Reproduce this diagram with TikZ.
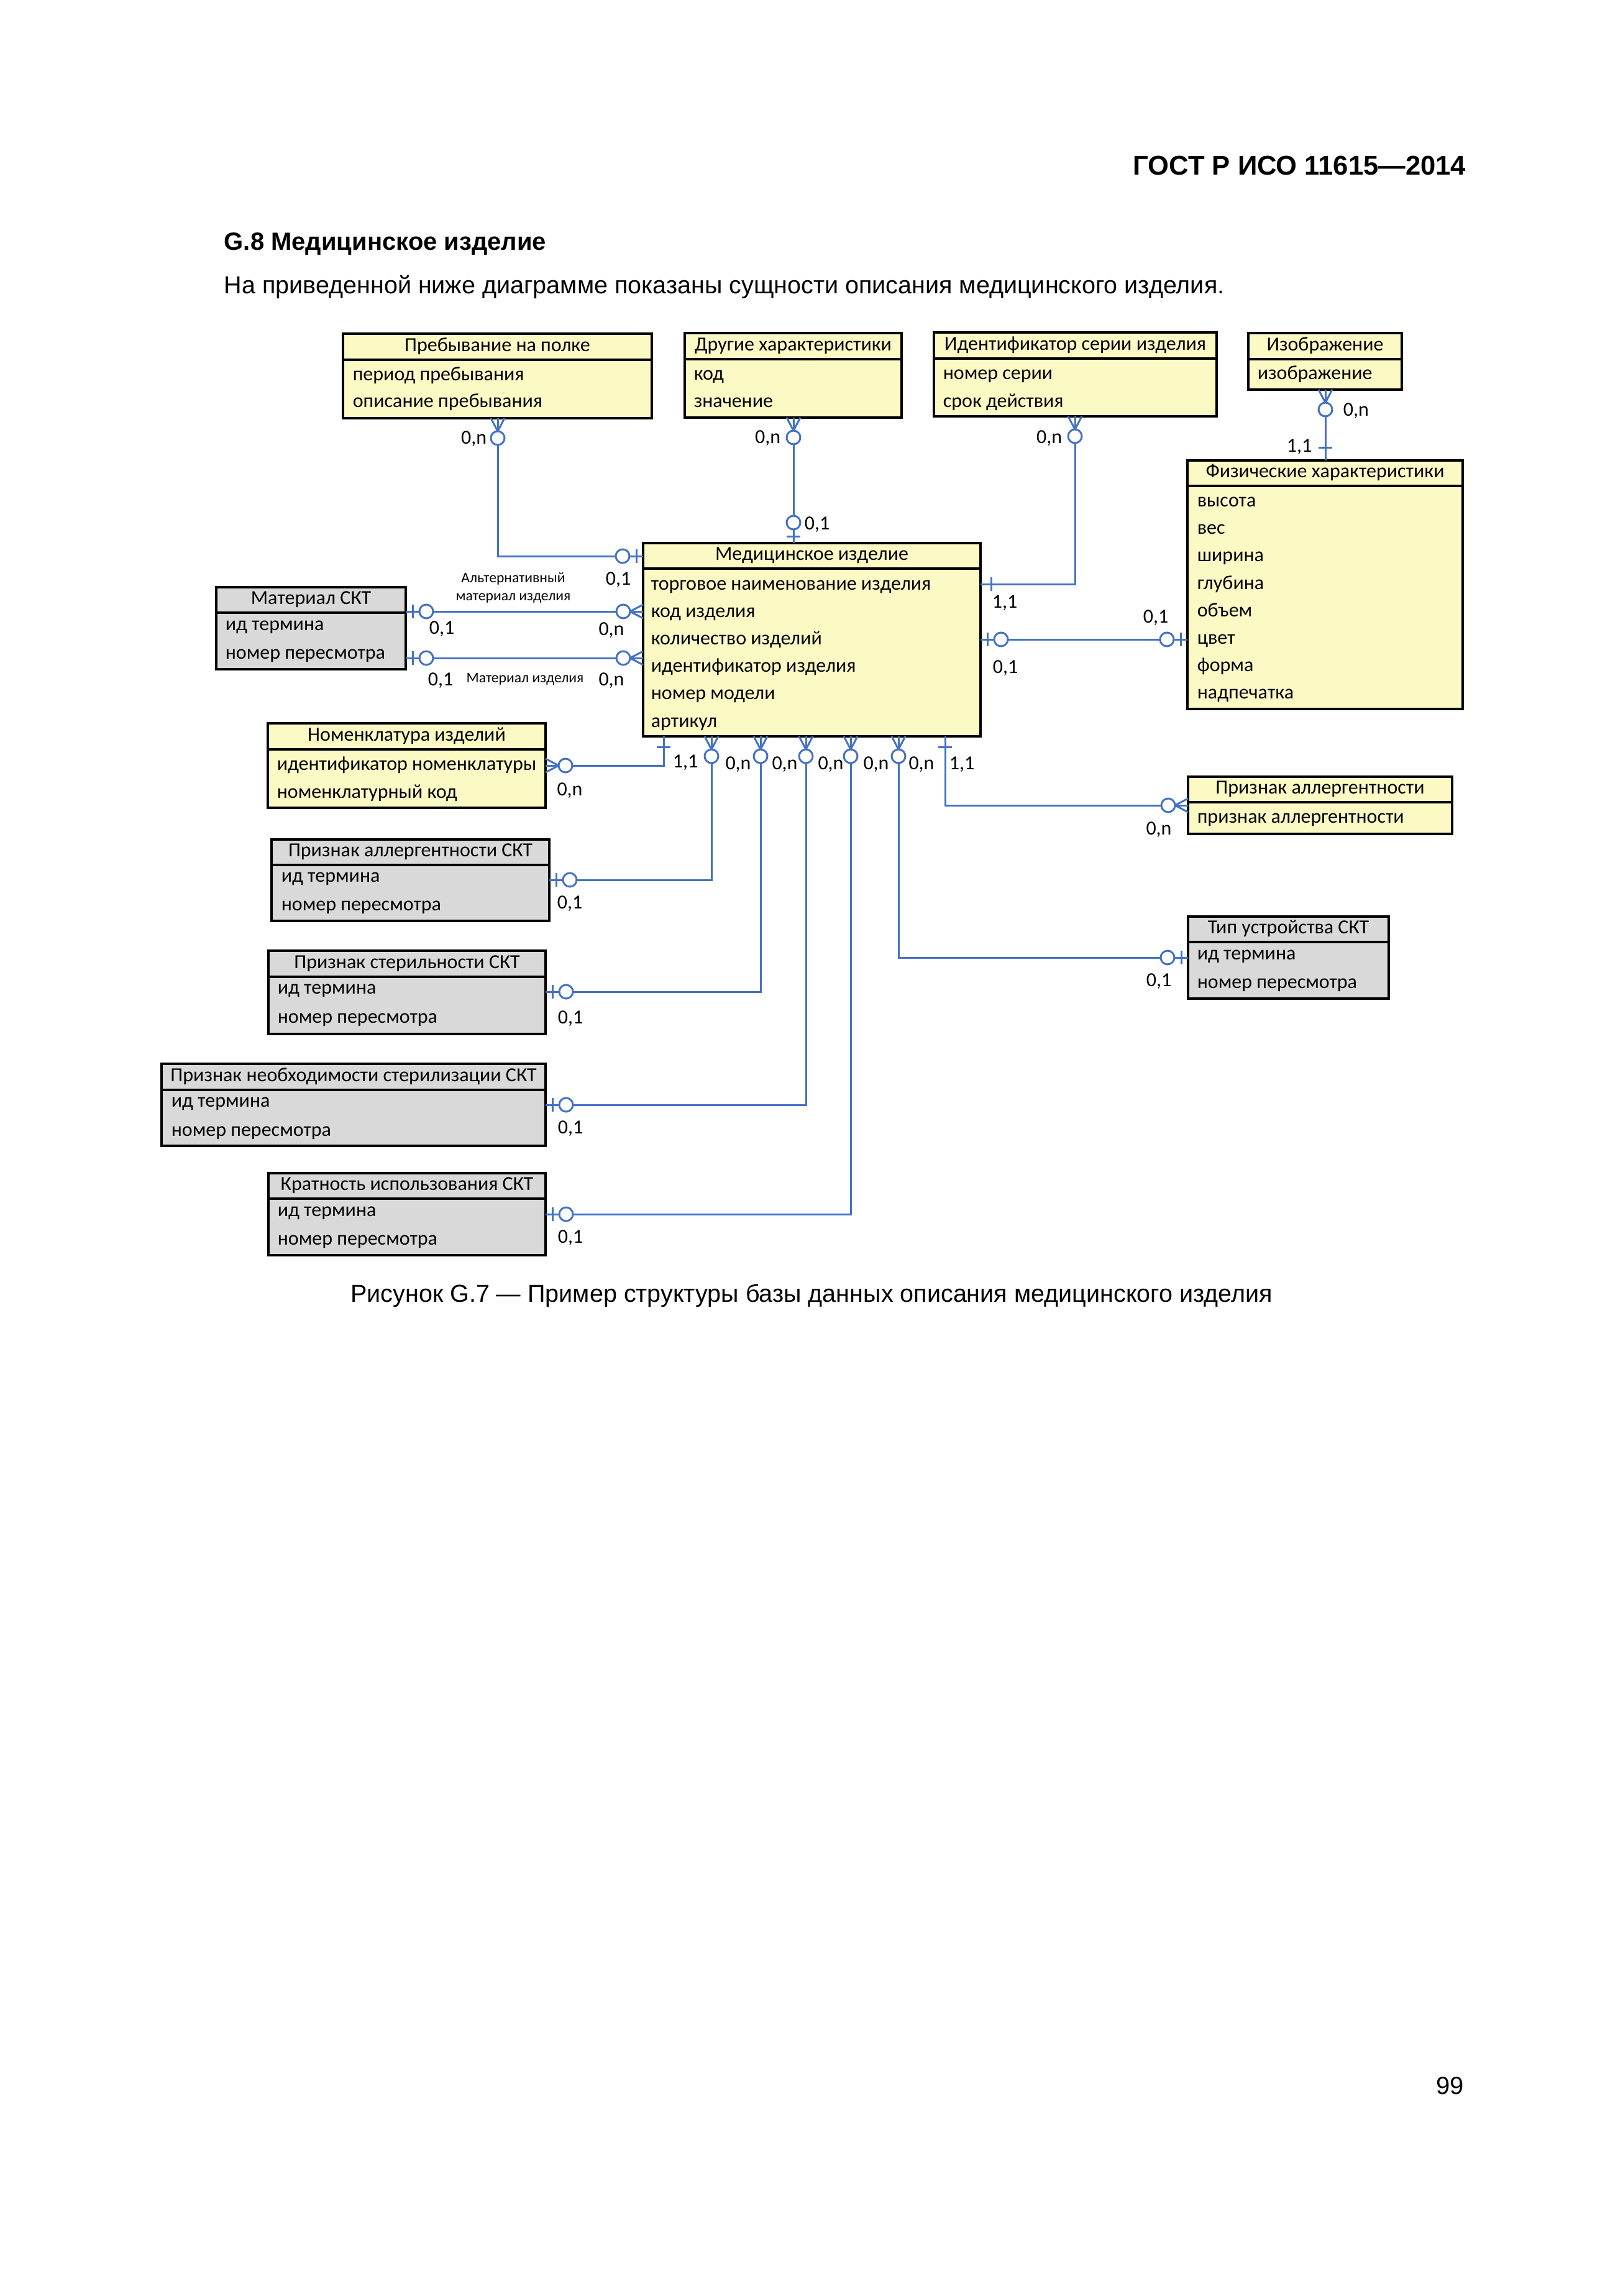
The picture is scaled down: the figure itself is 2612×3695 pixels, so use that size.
\documentclass[tikz,border=0pt]{standalone}
\usepackage{fontspec}
\setmainfont{Liberation Sans}
\newfontfamily\dfont{Carlito}
\usetikzlibrary{fit}
\definecolor{relblue}{RGB}{68,114,196}
\definecolor{entyel}{RGB}{251,249,196}
\definecolor{entgrey}{RGB}{217,217,217}
\newcommand\mkent[8]{%
  \node[entbox, fill=#2, fit={(#3,#4) (#5,#6)}] (#1) {};
  \draw[entline] (#3,#7) -- (#5,#7);
  \node[ttl] (#1-t) at ({(#3+#5)/2},{(#4+#7)/2}) {#8};}
\newcommand\mkrow[4]{\node[attr] (#1) at (#2,#3) {#4};}
\begin{document}
\begin{tikzpicture}[x=0.25pt, y=-0.25pt,
 entbox/.style={draw=black, line width=0.85pt, inner sep=0pt, outer sep=0pt},
 entline/.style={draw=black, line width=0.85pt},
 dtext/.style={font=\dfont\fontsize{8pt}{9.6pt}\selectfont, inner sep=0pt, text height=5.6pt, text depth=1.92pt},
 ttl/.style={dtext, anchor=center},
 attr/.style={dtext, anchor=west},
 card/.style={dtext},
 small/.style={font=\dfont\fontsize{5.9pt}{7.2pt}\selectfont, inner sep=0pt, align=center},
 rel/.style={draw=relblue, line width=0.75pt},
 pagetext/.style={inner sep=0pt, font=\fontsize{9.88pt}{12pt}\selectfont},
 zo/.pic={\draw[rel] (11,-11) -- (11,11); \draw[rel, fill=white] (33,0) circle[radius=2.75pt];},
 zm/.pic={\draw[rel] (0,-11) -- (21,0) -- (0,11); \draw[rel, fill=white] (32,0) circle[radius=2.75pt];},
 pics/one/.style={code={\draw[rel] (#1,-11) -- (#1,11);}},
 pics/one/.default=17,
]
\fill[white] (0,0) rectangle (2612,3695);
\useasboundingbox (0,0) rectangle (2612,3695);

% page texts
\node[pagetext, anchor=base east, font=\bfseries\fontsize{10.9pt}{13pt}\selectfont] (hdr) at (2360,281) {ГОСТ Р ИСО 11615—2014};
\node[pagetext, anchor=base west, font=\bfseries\fontsize{10pt}{12pt}\selectfont] (sec) at (360,402) {G.8 Медицинское изделие};
\node[pagetext, anchor=base west] (intro) at (360,472) {На приведенной ниже диаграмме показаны сущности описания медицинского изделия.};
\node[pagetext, anchor=base] (cap) at (1306,2095) {Рисунок G.7 — Пример структуры базы данных описания медицинского изделия};
\node[pagetext, anchor=base east, font=\fontsize{10pt}{12pt}\selectfont] (pg) at (2357,3370) {99};

% entities
\mkent{preb}{entyel}{552}{537}{1049}{673}{579}{Пребывание на полке}
\mkrow{preb-1}{567}{605}{период пребывания}
\mkrow{preb-2}{567}{648}{описание пребывания}

\mkent{drug}{entyel}{1102}{536}{1451}{672}{578}{Другие характеристики}
\mkrow{drug-1}{1116}{604}{код}
\mkrow{drug-2}{1116}{648}{значение}

\mkent{ident}{entyel}{1503}{535}{1958}{670}{577}{Идентификатор серии изделия}
\mkrow{ident-1}{1517}{603}{номер серии}
\mkrow{ident-2}{1517}{648}{срок действия}

\mkent{izob}{entyel}{2009}{536}{2256}{627}{578}{Изображение}
\mkrow{izob-1}{2023}{603}{изображение}

\mkent{fiz}{entyel}{1911}{741}{2354}{1141}{782}{Физические характеристики}
\mkrow{fiz-1}{1926}{808}{высота}
\mkrow{fiz-2}{1926}{852}{вес}
\mkrow{fiz-3}{1926}{896}{ширина}
\mkrow{fiz-4}{1926}{941}{глубина}
\mkrow{fiz-5}{1926}{985}{объем}
\mkrow{fiz-6}{1926}{1029}{цвет}
\mkrow{fiz-7}{1926}{1073}{форма}
\mkrow{fiz-8}{1926}{1117}{надпечатка}

\mkent{med}{entyel}{1035}{874}{1578}{1185}{915}{Медицинское изделие}
\mkrow{med-1}{1047}{942}{торговое наименование изделия}
\mkrow{med-2}{1047}{986}{код изделия}
\mkrow{med-3}{1047}{1030}{количество изделий}
\mkrow{med-4}{1047}{1074}{идентификатор изделия}
\mkrow{med-5}{1047}{1118}{номер модели}
\mkrow{med-6}{1047}{1163}{артикул}

\mkent{mat}{entgrey}{348}{945}{653}{1077}{986}{Материал СКТ}
\mkrow{mat-1}{362}{1007}{ид термина}
\mkrow{mat-2}{362}{1053}{номер пересмотра}

\mkent{nom}{entyel}{431}{1164}{878}{1300}{1206}{Номенклатура изделий}
\mkrow{nom-1}{445}{1232}{идентификатор номенклатуры}
\mkrow{nom-2}{445}{1277}{номенклатурный код}

\mkent{pallskt}{entgrey}{437}{1351}{884}{1482}{1392}{Признак аллергентности СКТ}
\mkrow{pallskt-1}{452}{1412}{ид термина}
\mkrow{pallskt-2}{452}{1458}{номер пересмотра}

\mkent{pster}{entgrey}{432}{1530}{878}{1664}{1572}{Признак стерильности СКТ}
\mkrow{pster-1}{446}{1592}{ид термина}
\mkrow{pster-2}{446}{1639}{номер пересмотра}

\mkent{pneob}{entgrey}{260}{1712}{878}{1844}{1754}{Признак необходимости стерилизации СКТ}
\mkrow{pneob-1}{275}{1774}{ид термина}
\mkrow{pneob-2}{275}{1821}{номер пересмотра}

\mkent{krat}{entgrey}{432}{1888}{878}{2020}{1929}{Кратность использования СКТ}
\mkrow{krat-1}{446}{1950}{ид термина}
\mkrow{krat-2}{446}{1996}{номер пересмотра}

\mkent{pall}{entyel}{1912}{1250}{2337}{1342}{1291}{Признак аллергентности}
\mkrow{pall-1}{1926}{1317}{признак аллергентности}

\mkent{tip}{entgrey}{1912}{1475}{2235}{1607}{1516}{Тип устройства СКТ}
\mkrow{tip-1}{1926}{1537}{ид термина}
\mkrow{tip-2}{1926}{1583}{номер пересмотра}

% connector routing points
\coordinate (eA) at (801,895);
\coordinate (eB) at (1277,0);
\coordinate (eC) at (1730,940);
\coordinate (eD) at (2133,0);
\coordinate (eE) at (0,1029);
\coordinate (eF) at (0,984);
\coordinate (eG) at (0,1059);
\coordinate (eH) at (1068,1232);
\coordinate (eI) at (1145,1416);
\coordinate (eJ) at (1224,1596);
\coordinate (eK) at (1297,1778);
\coordinate (eL) at (1369,1954);
\coordinate (eM) at (1446,1541);
\coordinate (eN) at (1521,1296);

% connectors
\draw[rel] (preb.south -| eA) |- (med.west |- eA);
\draw[rel] (drug.south -| eB) -- (med.north -| eB);
\draw[rel] (ident.south -| eC) |- (med.east |- eC);
\draw[rel] (izob.south -| eD) -- (fiz.north -| eD);
\draw[rel] (med.east |- eE) -- (fiz.west |- eE);
\draw[rel] (mat.east |- eF) -- (med.west |- eF);
\draw[rel] (mat.east |- eG) -- (med.west |- eG);
\draw[rel] (med.south -| eH) |- (nom.east |- eH);
\draw[rel] (med.south -| eI) |- (pallskt.east |- eI);
\draw[rel] (med.south -| eJ) |- (pster.east |- eJ);
\draw[rel] (med.south -| eK) |- (pneob.east |- eK);
\draw[rel] (med.south -| eL) |- (krat.east |- eL);
\draw[rel] (med.south -| eM) |- (tip.west |- eM);
\draw[rel] (med.south -| eN) |- (pall.west |- eN);

% end symbols
\pic[rotate=-90] at (preb.south -| eA) {zm};
\pic[rotate=180] at (med.west |- eA) {zo};
\pic[rotate=-90] at (drug.south -| eB) {zm};
\pic[rotate=90] at (med.north -| eB) {zo};
\pic[rotate=-90] at (ident.south -| eC) {zm};
\pic at (med.east |- eC) {one};
\pic[rotate=-90] at (izob.south -| eD) {zm};
\pic[rotate=90] at (fiz.north -| eD) {one=21};
\pic at (med.east |- eE) {zo};
\pic[rotate=180] at (fiz.west |- eE) {zo};
\pic at (mat.east |- eF) {zo};
\pic[rotate=180] at (med.west |- eF) {zm};
\pic at (mat.east |- eG) {zo};
\pic[rotate=180] at (med.west |- eG) {zm};
\pic[rotate=-90] at (med.south -| eH) {one};
\pic at (nom.east |- eH) {zm};
\pic[rotate=-90] at (med.south -| eI) {zm};
\pic at (pallskt.east |- eI) {zo};
\pic[rotate=-90] at (med.south -| eJ) {zm};
\pic at (pster.east |- eJ) {zo};
\pic[rotate=-90] at (med.south -| eK) {zm};
\pic at (pneob.east |- eK) {zo};
\pic[rotate=-90] at (med.south -| eL) {zm};
\pic at (krat.east |- eL) {zo};
\pic[rotate=-90] at (med.south -| eM) {zm};
\pic[rotate=180] at (tip.west |- eM) {zo};
\pic[rotate=-90] at (med.south -| eN) {one};
\pic[rotate=180] at (pall.west |- eN) {zm};

% cardinality labels
\node[card, anchor=east] (lA1) at (784,707) {0,n};
\node[card] (lA2) at (995,934) {0,1};
\node[card, anchor=east] (lB1) at (1257,706) {0,n};
\node[card, anchor=west] (lB2) at (1294,845) {0,1};
\node[card, anchor=east] (lC1) at (1710,706) {0,n};
\node[card] (lC2) at (1617,971) {1,1};
\node[card, anchor=west] (lD1) at (2161,662) {0,n};
\node[card, anchor=east] (lD2) at (2112,720) {1,1};
\node[card] (lE1) at (1618,1076) {0,1};
\node[card] (lE2) at (1860,995) {0,1};
\node[small] (lF0) at (826,946) {Альтернативный\\материал изделия};
\node[card] (lF1) at (711,1013) {0,1};
\node[card] (lF2) at (984,1015) {0,n};
\node[card] (lG1) at (709,1096) {0,1};
\node[small] (lG0) at (845,1093) {Материал изделия};
\node[card] (lG2) at (984,1096) {0,n};
\node[card] (lH1) at (1103,1228) {1,1};
\node[card] (lH2) at (917,1273) {0,n};
\node[card] (lI1) at (1188,1231) {0,n};
\node[card] (lI2) at (917,1455) {0,1};
\node[card] (lJ1) at (1263,1231) {0,n};
\node[card] (lJ2) at (918,1640) {0,1};
\node[card] (lK1) at (1337,1231) {0,n};
\node[card] (lK2) at (918,1817) {0,1};
\node[card] (lL1) at (1410,1231) {0,n};
\node[card] (lL2) at (918,1993) {0,1};
\node[card] (lM1) at (1483,1231) {0,n};
\node[card] (lM2) at (1865,1580) {0,1};
\node[card] (lN1) at (1548,1231) {1,1};
\node[card] (lN2) at (1865,1336) {0,n};
\end{tikzpicture}
\end{document}
